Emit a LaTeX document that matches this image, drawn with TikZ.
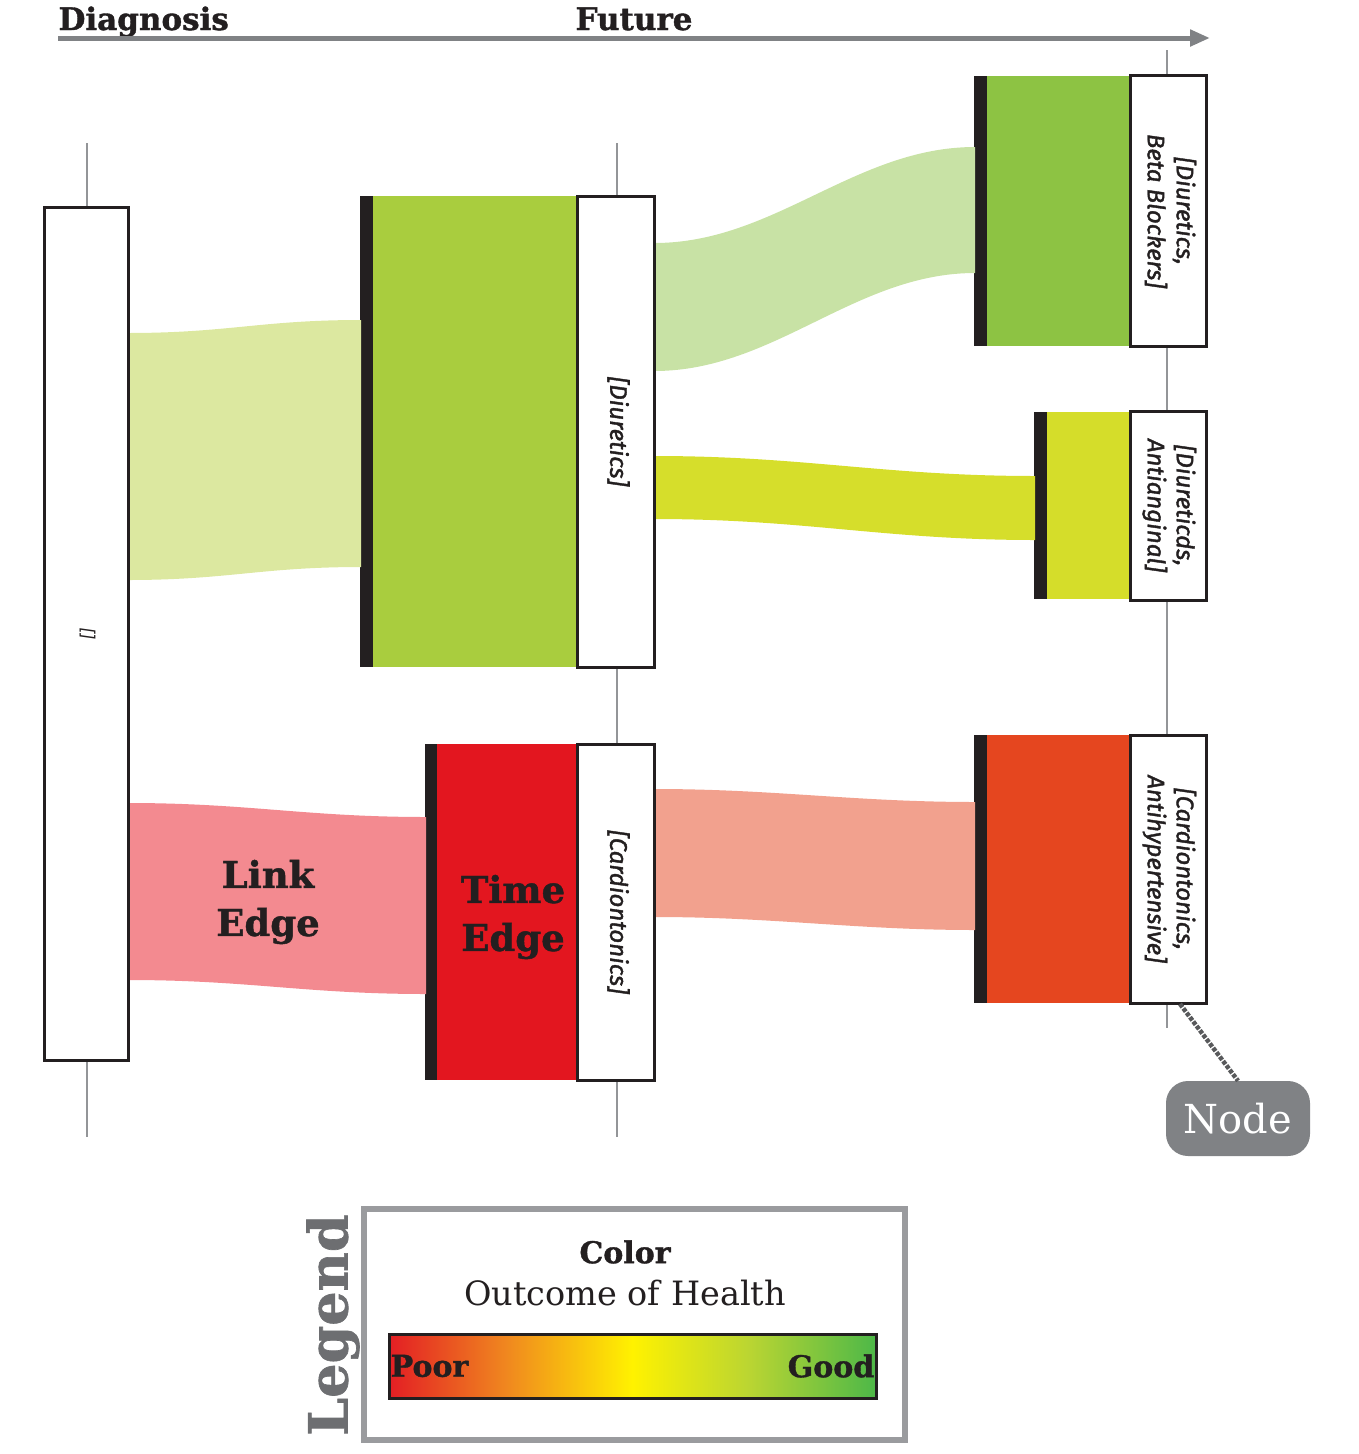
\documentclass[tikz,border=0pt]{standalone}
\usepackage{fontspec}
\usepackage{graphicx}
\usetikzlibrary{calc,arrows.meta}

\newfontfamily\slab{DejaVu Serif}
\newfontfamily\lblfont{Fira Sans}

\definecolor{ink}{HTML}{231F20}
\definecolor{axisgray}{HTML}{808285}
\definecolor{tickgray}{HTML}{939598}
\definecolor{legendgray}{HTML}{6D6E71}
\definecolor{framegray}{HTML}{9A9B9E}
\definecolor{dimgray}{HTML}{58595B}
% block colours
\definecolor{cDiu}{HTML}{A9CD3E}
\definecolor{cCar}{HTML}{E3161F}
\definecolor{cBeta}{HTML}{8DC343}
\definecolor{cAng}{HTML}{D5DD2A}
\definecolor{cHyp}{HTML}{E5461F}
% band colours
\definecolor{fA}{HTML}{DCE8A0}
\definecolor{fB}{HTML}{F38A90}
\definecolor{fC}{HTML}{C8E2A5}
\definecolor{fD}{HTML}{D6DE2B}
\definecolor{fE}{HTML}{F2A18E}
% health scale
\definecolor{hpoor}{HTML}{E31E24}
\definecolor{horange}{HTML}{F0871F}
\definecolor{hyellow}{HTML}{FFF200}
\definecolor{hlime}{HTML}{BAD532}
\definecolor{hgood}{HTML}{4DB848}

\pgfdeclarehorizontalshading{healthscale}{100bp}{%
  color(0bp)=(hpoor); color(25bp)=(hpoor); color(37bp)=(horange);
  color(50bp)=(hyellow); color(62bp)=(hlime); color(75bp)=(hgood);
  color(100bp)=(hgood)}

\newcommand\vlabel[1]{\rotatebox{-90}{\begin{tabular}{@{}c@{}}#1\end{tabular}}}
\newcommand\heavy{\slab\bfseries\addfontfeatures{FakeBold=1.2}}

\begin{document}
\begin{tikzpicture}[x=1pt, y=-1pt,
  axisline/.style={draw=axisgray, line width=5pt, -{Triangle[length=20pt,width=16pt]}},
  tick/.style={draw=tickgray, line width=2.5pt},
  bar/.style={fill=ink, inner sep=0, outer sep=0, minimum width=13pt},
  block/.style={inner sep=0, outer sep=0},
  tag/.style={draw=ink, line width=3pt, fill=white, inner sep=0, outer sep=0,
    minimum width=77pt, text=ink,
    font=\lblfont\itshape\addfontfeatures{FakeBold=1.6}\fontsize{24}{29}\selectfont},
  head/.style={font=\heavy\fontsize{31}{31}\selectfont, text=ink, anchor=base west},
  bigword/.style={font=\heavy\fontsize{37}{48}\selectfont, text=ink, align=center},
  callout/.style={fill=axisgray, rounded corners=22pt, minimum width=144pt, minimum height=75pt,
    inner sep=0, text=white, font=\slab\fontsize{40}{40}\selectfont},
  pointer/.style={draw=dimgray, line width=4.5pt, dash pattern=on 4pt off 1.5pt},
]
\useasboundingbox (0,0) rectangle (1358,1454);

% time axis
\node[head] (diag) at (55,30) {Diagnosis};
\node[head] (fut) at (572,30) {Future};
\coordinate (axA) at (58,38);
\coordinate (axB) at (1210,38);
\draw[axisline] (axA) -- (axB);

% time ticks
\draw[tick] (87,143) -- (87,1137);
\draw[tick] (617,143) -- (617,1137);
\draw[tick] (1167,50) -- (1167,1028);

% diagnosis node
\node[tag, minimum width=84pt, minimum height=853pt,
  font=\lblfont\itshape\fontsize{17}{17}\selectfont] (L) at (86,633.5) {\vlabel{[]}};

% first step
\node[bar, minimum height=471pt] (D1bar) at (366.5,431.5) {};
\node[block, fill=cDiu, minimum width=204pt, minimum height=471pt] (D1) at (475,431.5) {};
\node[tag, minimum height=471pt] (D1tag) at (616,431.5) {\vlabel{[Diuretics]}};

\node[bar, minimum width=12pt, minimum height=336pt] (C1bar) at (431,912) {};
\node[block, fill=cCar, minimum width=140pt, minimum height=336pt] (C1) at (507,912) {};
\node[tag, minimum height=336pt] (C1tag) at (616,912) {\vlabel{[Cardiontonics]}};

% second step
\node[bar, minimum height=270pt] (R1bar) at (980.5,211) {};
\node[block, fill=cBeta, minimum width=143pt, minimum height=270pt] (R1) at (1058.5,211) {};
\node[tag, minimum width=76pt, minimum height=271pt] (R1tag) at (1168,211) {\vlabel{[Diuretics,\\Beta Blockers]}};

\node[bar, minimum height=187pt] (R2bar) at (1040.5,505.5) {};
\node[block, fill=cAng, minimum width=83pt, minimum height=187pt] (R2) at (1088.5,505.5) {};
\node[tag, minimum width=76pt, minimum height=189pt] (R2tag) at (1168,505.5) {\vlabel{[Diureticds,\\Antianginal]}};

\node[bar, minimum height=268pt] (R3bar) at (980.5,869) {};
\node[block, fill=cHyp, minimum width=143pt, minimum height=268pt] (R3) at (1058.5,869) {};
\node[tag, minimum width=76pt, minimum height=268pt] (R3tag) at (1168,869) {\vlabel{[Cardiontonics,\\Antihypertensive]}};

% bands between nodes
\fill[fA] ($(L.north east)+(0,126)$) .. controls +(100,0) and +(-100,0) .. ($(D1bar.north west)+(1,124)$)
  -- ($(D1bar.north west)+(1,371)$) .. controls +(-100,0) and +(100,0) .. ($(L.north east)+(0,373)$) -- cycle;
\fill[fB] ($(L.north east)+(0,596)$) .. controls +(120,0) and +(-120,0) .. ($(C1bar.north west)+(1,73)$)
  -- ($(C1bar.north west)+(1,250)$) .. controls +(-120,0) and +(120,0) .. ($(L.north east)+(0,773)$) -- cycle;
\fill[fC] ($(D1tag.north east)+(0,47)$) .. controls +(120,0) and +(-120,0) .. ($(R1bar.north west)+(1,71)$)
  -- ($(R1bar.north west)+(1,197)$) .. controls +(-120,0) and +(120,0) .. ($(D1tag.north east)+(0,175)$) -- cycle;
\fill[fD] ($(D1tag.north east)+(0,260)$) .. controls +(150,0) and +(-150,0) .. ($(R2bar.north west)+(1,64)$)
  -- ($(R2bar.north west)+(1,128)$) .. controls +(-150,0) and +(150,0) .. ($(D1tag.north east)+(0,323)$) -- cycle;
\fill[fE] ($(C1tag.north east)+(0,45)$) .. controls +(120,0) and +(-120,0) .. ($(R3bar.north west)+(1,67)$)
  -- ($(R3bar.north west)+(1,195)$) .. controls +(-120,0) and +(120,0) .. ($(C1tag.north east)+(0,173)$) -- cycle;

% node borders drawn again over the band ends
\draw[ink, line width=3pt] (L.north east) -- (L.south east);
\draw[ink, line width=3pt] (D1tag.north east) -- (D1tag.south east);
\draw[ink, line width=3pt] (C1tag.north east) -- (C1tag.south east);

% annotations
\node[bigword] (linkedge) at (268,902) {Link\\Edge};
\node[bigword] (timeedge) at (513,917) {Time\\Edge};
\node[callout] (nd) at (1238,1118.5) {Node};
\draw[pointer] ($(R3tag.south west)+(50,1)$) -- (nd.north);

% legend
\node[draw=framegray, line width=6pt, minimum width=541pt, minimum height=231pt, inner sep=0] (lg) at (634.5,1324.5) {};
\node[rotate=90, text=legendgray, font=\heavy\fontsize{54}{54}\selectfont] (lgt) at (333,1325) {Legend};
\node[text=ink, font=\heavy\fontsize{30}{30}\selectfont] (lgc) at (625,1252) {Color};
\node[text=ink, font=\slab\fontsize{33.5}{33.5}\selectfont] (lgo) at (625,1293) {Outcome of Health};
\node[draw=ink, line width=3pt, shading=healthscale, minimum width=487pt, minimum height=64pt, inner sep=0] (scale) at (632.5,1366) {};
\node[anchor=west, text=ink, inner sep=0, font=\heavy\fontsize{30}{30}\selectfont] (poor) at ([xshift=3pt]scale.west) {Poor};
\node[anchor=east, text=ink, inner sep=0, font=\heavy\fontsize{30}{30}\selectfont] (good) at ([xshift=-3pt]scale.east) {Good};
\end{tikzpicture}
\end{document}
